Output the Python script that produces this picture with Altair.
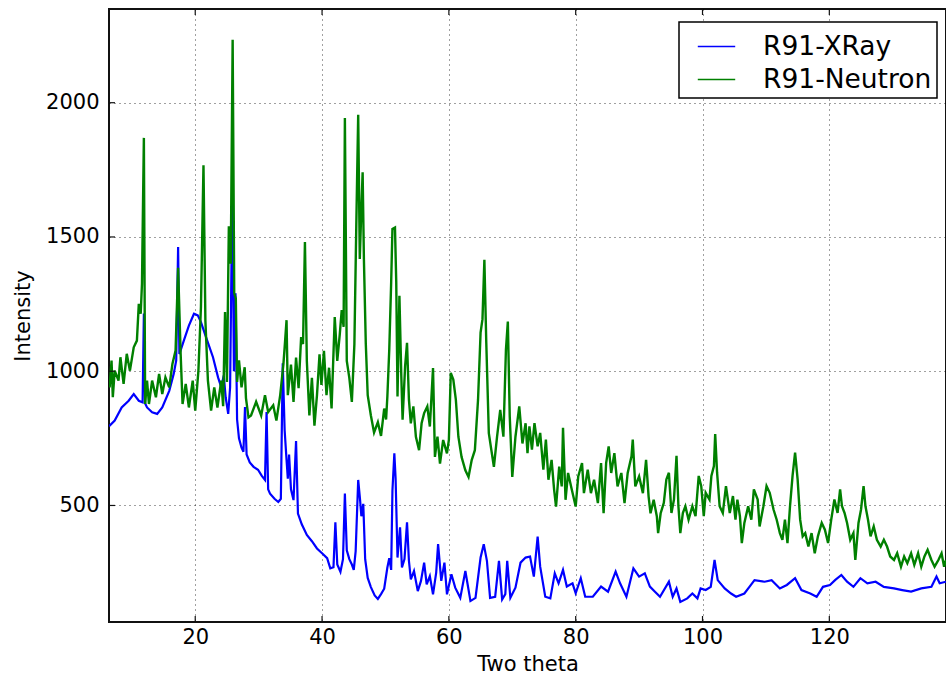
import altair as alt
import pandas as pd

# R91 diffraction patterns: two-theta (degrees) vs intensity (counts)
xray_theta = [
    6.4, 6.5, 7.3, 8.4, 9.5, 10.3, 11.1, 11.7, 11.9, 12.1, 12.4, 13.2, 14.0, 14.8, 15.9,
    16.6, 17.0, 17.3, 17.5, 18.2, 19.0, 19.8, 20.4, 20.9, 21.7, 22.8, 23.6, 24.1, 24.5,
    24.8, 25.2, 25.5, 25.85, 26.1, 26.35, 26.6, 26.9, 27.3, 27.6, 27.85, 28.1, 28.6, 29.2,
    29.9, 30.5, 31.0, 31.25, 31.5, 31.8, 32.5, 33.1, 33.5, 33.8, 34.1, 34.4, 34.6, 34.8,
    35.1, 35.5, 35.9, 36.2, 36.8, 37.6, 38.4, 39.2, 40.0, 40.8, 41.3, 41.8, 42.1, 42.4,
    42.9, 43.3, 43.6, 43.9, 44.3, 44.7, 45.0, 45.3, 45.7, 46.0, 46.2, 46.5, 46.8, 47.2,
    47.7, 48.3, 48.8, 49.3, 49.8, 50.3, 50.6, 50.9, 51.1, 51.4, 51.6, 51.9, 52.3, 52.6,
    53.0, 53.4, 53.7, 54.0, 54.5, 55.1, 55.6, 56.1, 56.5, 57.0, 57.5, 58.0, 58.3, 58.8,
    59.3, 59.7, 60.4, 61.0, 61.8, 62.6, 63.4, 64.2, 65.0, 65.5, 66.0, 66.5, 67.3, 67.9,
    68.4, 68.9, 69.2, 69.7, 70.5, 71.3, 72.1, 72.8, 73.4, 74.0, 74.4, 75.2, 76.0, 76.7,
    77.3, 78.0, 78.6, 79.5, 80.0, 80.8, 81.5, 82.7, 84.0, 85.1, 86.3, 87.0, 88.0, 89.1,
    90.0, 90.9, 91.7, 92.5, 93.3, 94.7, 95.3, 95.9, 96.5, 97.6, 98.4, 99.2, 99.7, 100.5,
    101.3, 101.9, 102.4, 103.5, 104.5, 105.3, 106.6, 107.4, 108.2, 109.8, 110.9, 112.2,
    113.3, 114.6, 115.6, 117.0, 118.0, 119.0, 120.1, 120.9, 121.9, 122.8, 123.8, 124.9,
    126.0, 127.3, 128.6, 130.2, 131.5, 132.9, 134.5, 136.1, 136.9, 137.4, 138.4,
]
xray_intensity = [
    795, 797, 816, 865, 890, 915, 890, 884, 1215, 880, 865, 847, 841, 865, 927,
    990, 1040, 1463, 1064, 1114, 1170, 1214, 1208, 1183, 1127, 1052, 977, 940, 984,
    903, 841, 940, 1687, 1000, 1290, 820, 750, 715, 700, 867, 690, 660, 644,
    633, 610, 595, 848, 560, 544, 525, 513, 525, 1030, 780, 670, 600, 690,
    560, 520, 740, 470, 430, 390, 367, 340, 322, 304, 266, 270, 437, 280,
    253, 300, 544, 333, 300, 280, 260, 330, 595, 520, 460, 506, 300, 230,
    196, 165, 152, 170, 190, 269, 304, 260, 556, 694, 600, 306, 419, 269,
    300, 437, 294, 225, 256, 181, 219, 287, 206, 237, 169, 250, 356, 219,
    287, 169, 244, 194, 156, 256, 144, 156, 306, 356, 294, 156, 160, 294,
    150, 170, 294, 156, 194, 287, 306, 310, 235, 384, 272, 160, 154, 247,
    210, 260, 198, 210, 173, 229, 160, 160, 198, 179, 254, 210, 160, 266,
    235, 247, 198, 179, 160, 216, 160, 191, 141, 154, 172, 154, 191, 185,
    197, 297, 222, 191, 172, 160, 172, 197, 222, 216, 222, 191,
    204, 229, 185, 172, 160, 197, 204, 222, 241, 216, 197, 229,
    210, 216, 197, 191, 185, 179, 191, 197, 235, 210, 216,
]

neutron_theta = [
    6.4, 6.5, 6.8, 7.0, 7.3, 7.9, 8.2, 8.7, 9.2, 9.7, 10.3, 10.8, 11.1, 11.4, 11.6,
    11.9, 12.1, 12.4, 12.7, 13.2, 13.8, 14.3, 14.8, 15.3, 15.9, 16.4, 16.9, 17.3, 17.7,
    18.0, 18.5, 19.0, 19.6, 20.0, 20.5, 20.9, 21.3, 21.6, 22.0, 22.5, 23.0, 23.5, 24.1,
    24.4, 24.7, 25.0, 25.3, 25.6, 25.9, 26.15, 26.4, 26.6, 26.9, 27.3, 27.8, 28.0, 28.4,
    28.8, 29.6, 30.4, 31.0, 31.5, 32.3, 32.8, 33.4, 33.9, 34.1, 34.4, 34.6, 35.1, 35.5,
    35.9, 36.3, 36.7, 37.0, 37.3, 37.6, 38.0, 38.4, 38.8, 39.2, 39.6, 39.9, 40.3, 40.7,
    41.1, 41.5, 42.0, 42.4, 42.8, 43.1, 43.4, 43.6, 43.9, 44.3, 44.7, 45.1, 45.4, 45.7,
    45.95, 46.2, 46.4, 46.6, 46.9, 47.2, 47.7, 48.2, 48.8, 49.3, 49.8, 50.1, 50.3, 50.6,
    50.9, 51.1, 51.5, 51.7, 51.9, 52.2, 52.5, 52.7, 53.1, 53.4, 53.7, 54.0, 54.4, 54.8,
    55.3, 55.7, 56.1, 56.6, 57.0, 57.5, 57.8, 58.2, 58.6, 59.1, 59.7, 60.0, 60.3, 60.7,
    61.1, 61.5, 62.0, 62.6, 63.1, 63.6, 64.1, 64.6, 65.0, 65.3, 65.6, 65.9, 66.3, 66.7,
    67.1, 67.6, 68.1, 68.6, 69.0, 69.3, 69.6, 70.0, 70.5, 71.1, 71.6, 72.1, 72.4, 72.7,
    73.1, 73.5, 74.0, 74.4, 74.9, 75.3, 75.7, 76.2, 76.6, 76.9, 77.4, 77.8, 78.0, 78.4,
    78.8, 79.4, 80.0, 80.4, 81.0, 81.3, 81.9, 82.4, 82.9, 83.5, 84.0, 84.4, 84.8, 85.2,
    85.6, 86.1, 86.6, 87.2, 87.7, 88.2, 88.8, 89.0, 89.4, 90.0, 90.6, 91.1, 91.5, 91.8,
    92.3, 92.8, 93.0, 93.4, 93.9, 94.3, 94.7, 95.1, 95.5, 95.9, 96.2, 96.5, 96.9, 97.3,
    97.8, 98.4, 98.9, 99.4, 99.8, 100.2, 100.5, 101.1, 101.4, 101.8, 102.0, 102.3, 102.7,
    103.2, 103.7, 104.3, 104.8, 105.2, 105.5, 105.9, 106.2, 106.6, 107.2, 107.7, 108.1,
    108.7, 109.0, 109.6, 110.1, 110.6, 111.2, 111.7, 112.2, 112.6, 113.0, 113.4, 113.8,
    114.2, 114.6, 115.0, 115.4, 115.8, 116.2, 116.7, 117.2, 117.7, 118.2, 118.8, 119.3,
    119.8, 120.3, 120.8, 121.3, 121.7, 122.0, 122.4, 122.8, 123.3, 123.8, 124.1, 124.6,
    125.0, 125.4, 125.7, 126.1, 126.5, 127.0, 127.5, 128.1, 128.6, 129.1, 129.6, 130.2,
    130.7, 131.3, 131.8, 132.3, 132.9, 133.4, 134.0, 134.5, 135.0, 135.5, 136.1, 136.6,
    137.2, 137.7, 138.1, 138.4,
]
neutron_intensity = [
    960, 940, 1040, 903, 1002, 965, 1052, 953, 1065, 1002, 1089, 1114, 1251, 1214, 1326,
    1869, 878, 965, 878, 965, 903, 990, 915, 977, 940, 1027, 1077, 1385, 1064,
    878, 953, 865, 965, 853, 1002, 1239, 1767, 1189, 965, 853, 940, 865, 965,
    870, 1220, 960, 1540, 1400, 2234, 1290, 1270, 960, 1040, 940, 1015, 900, 828,
    835, 886, 835, 911, 848, 873, 816, 911, 1025, 1089, 1190, 911, 1025, 886,
    1051, 937, 1127, 1101, 1481, 1038, 835, 975, 797, 911, 1063, 949, 1076, 911,
    1013, 861, 1202, 1038, 1139, 1228, 1165, 1943, 1038, 975, 886, 1101, 1544, 1955,
    1418, 1608, 1741, 1418, 1101, 911, 835, 772, 810, 759, 861, 820, 906, 1081,
    1331, 1530, 1535, 1331, 906, 1281, 981, 819, 1019, 1106, 894, 806, 869, 756,
    706, 806, 844, 869, 794, 1012, 681, 756, 656, 744, 694, 744, 994, 969,
    894, 756, 681, 631, 606, 669, 706, 894, 1144, 1194, 1415, 1106, 769, 706,
    644, 756, 856, 756, 1081, 1185, 831, 606, 756, 869, 731, 806, 695, 795,
    708, 807, 720, 770, 633, 745, 596, 670, 558, 496, 645, 571, 789, 521,
    621, 558, 496, 608, 658, 546, 633, 546, 596, 509, 658, 471, 658, 720,
    621, 695, 571, 621, 509, 621, 683, 745, 571, 608, 546, 670, 533, 471,
    521, 459, 397, 471, 510, 597, 622, 472, 522, 685, 497, 397, 472, 497,
    447, 497, 460, 610, 572, 460, 547, 522, 610, 647, 766, 622, 497,
    472, 572, 472, 535, 447, 522, 460, 360, 435, 497, 447, 560,
    522, 422, 497, 572, 547, 485, 447, 397, 372, 447, 360, 497,
    610, 697, 597, 447, 385, 397, 347, 397, 322, 385, 435, 410,
    360, 447, 522, 472, 560, 497, 472, 435, 372, 397, 297, 435,
    485, 572, 497, 447, 385, 422, 372, 347, 372, 347, 310, 297,
    322, 272, 310, 285, 322, 279, 322, 272, 310, 335, 297, 272,
    297, 322, 272, 297,
]

series_names = ["R91-XRay", "R91-Neutron"]
series_colors = ["#0000ff", "#008000"]

x_ticks = [20, 40, 60, 80, 100, 120]
y_ticks = [500, 1000, 1500, 2000]

x_domain = [6.4, 138.4]
y_domain = [66, 2349]

W, H = 837, 613

xray = pd.DataFrame({"theta": xray_theta, "intensity": xray_intensity, "series": series_names[0]})
neutron = pd.DataFrame({"theta": neutron_theta, "intensity": neutron_intensity, "series": series_names[1]})

x_scale = alt.Scale(domain=x_domain, nice=False, zero=False)
y_scale = alt.Scale(domain=y_domain, nice=False, zero=False)

axis_common = dict(
    grid=True,
    gridColor="#000000",
    gridDash=[1, 4],
    gridOpacity=0.75,
    gridWidth=1,
    ticks=False,
    domain=False,
    labelFont="DejaVu Sans",
    labelFontSize=21,
    labelColor="#000000",
    titleFont="DejaVu Sans",
    titleFontSize=21,
    titleFontWeight="normal",
    titleColor="#000000",
)

x_enc = alt.X(
    "theta:Q",
    scale=x_scale,
    axis=alt.Axis(values=x_ticks, title="Two theta", labelPadding=4,
                  titleY=48, titleBaseline="alphabetic", **axis_common),
)
y_enc = alt.Y(
    "intensity:Q",
    scale=y_scale,
    axis=alt.Axis(values=y_ticks, title="Intensity", labelPadding=10, format="d",
                  titleX=-86, titleBaseline="middle", **axis_common),
)
color_enc = alt.Color(
    "series:N",
    scale=alt.Scale(domain=series_names, range=series_colors),
    sort=series_names,
    legend=alt.Legend(
        title=None,
        orient="none",
        legendX=570,
        legendY=13,
        strokeColor="#000000",
        fillColor="#ffffff",
        padding=5,
        symbolOffset=13,
        symbolType="stroke",
        symbolSize=1400,
        symbolStrokeWidth=1.5,
        labelFont="DejaVu Sans",
        labelFontSize=26.5,
        labelColor="#000000",
        labelOffset=27,
        labelLimit=400,
        rowPadding=0,
        cornerRadius=0,
    ),
)

# X-ray drawn first, neutron on top
xray_line = alt.Chart(xray).mark_line(strokeWidth=2.2, clip=True).encode(
    x=x_enc, y=y_enc, color=color_enc, order="theta:Q")
neutron_line = alt.Chart(neutron).mark_line(strokeWidth=2.4, clip=True).encode(
    x=x_enc, y=y_enc, color=color_enc, order="theta:Q")

# inward tick marks on the frame
xt = pd.DataFrame({"theta": x_ticks})
yt = pd.DataFrame({"intensity": y_ticks})
tick_color = "#111111"
bottom_ticks = alt.Chart(xt).mark_rule(color=tick_color, strokeWidth=1.2).encode(
    x=alt.X("theta:Q", scale=x_scale), y=alt.value(H), y2=alt.value(H - 6))
top_ticks = alt.Chart(xt).mark_rule(color=tick_color, strokeWidth=1.2).encode(
    x=alt.X("theta:Q", scale=x_scale), y=alt.value(0), y2=alt.value(6))
left_ticks = alt.Chart(yt).mark_rule(color=tick_color, strokeWidth=1.2).encode(
    y=alt.Y("intensity:Q", scale=y_scale), x=alt.value(0), x2=alt.value(6))

chart = alt.layer(xray_line, neutron_line, bottom_ticks, top_ticks, left_ticks).properties(
    width=W,
    height=H,
    padding={"left": 109, "top": 9, "right": 0, "bottom": 52},
    autosize=alt.AutoSizeParams(type="none"),
    background="#ffffff",
).configure_view(
    stroke="#111111",
    strokeWidth=2,
).configure_legend(
    strokeWidth=1.5,
)

chart.save("out.html", embed_options={"renderer": "svg", "actions": False})
